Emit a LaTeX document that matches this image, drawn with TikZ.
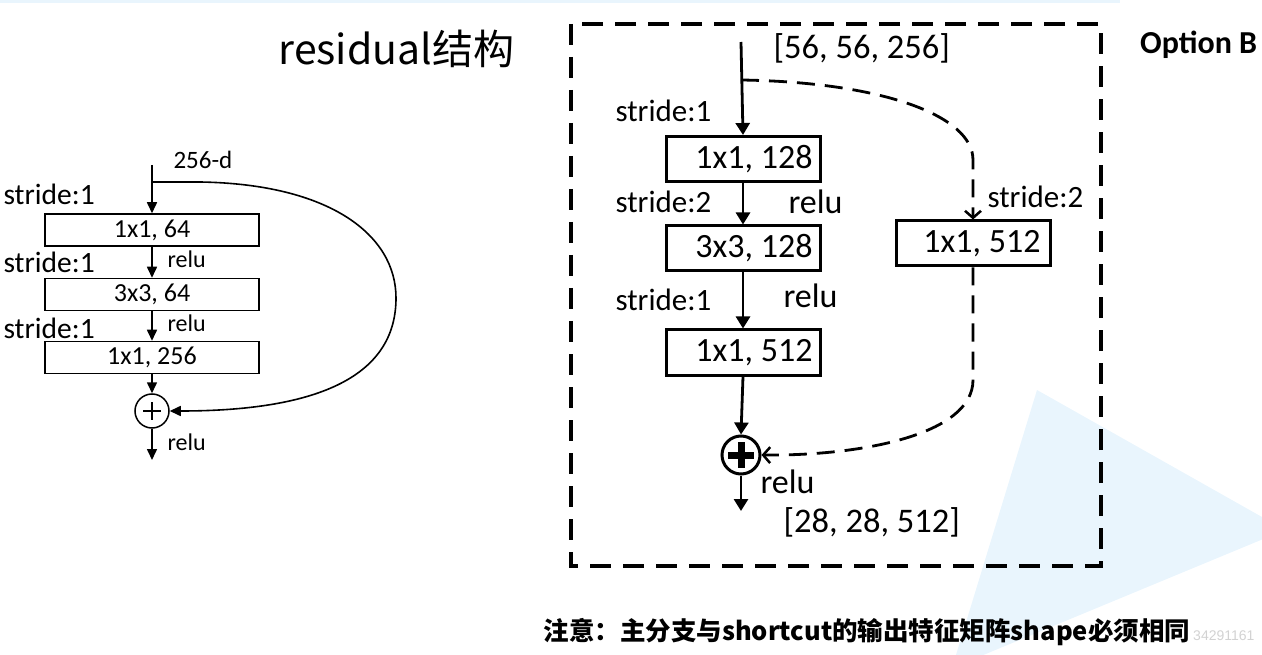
\documentclass[tikz,border=0pt]{standalone}
\usepackage{fontspec}
\setmainfont{Carlito}
\newfontfamily\cjk{Noto Sans CJK SC}
\newfontfamily\wmfont{Liberation Sans}
\usetikzlibrary{arrows.meta}
\definecolor{bgblue}{HTML}{E9F5FD}
\begin{document}
\begin{tikzpicture}[x=1pt,y=-1pt,
  fs/.style={font=\fontsize{#1}{#1}\selectfont},
  lbox/.style={draw, line width=1.5pt, minimum width=214pt, minimum height=32pt, inner sep=0pt, font=\fontsize{26}{26}\selectfont},
  rbox/.style={draw, line width=3pt, minimum width=154pt, minimum height=45pt, inner sep=0pt, font=\fontsize{34}{34}\selectfont},
  larr/.style={line width=1.6pt, -{Triangle[length=11pt,width=10pt]}},
  rarr/.style={line width=2.8pt, -{Triangle[length=12pt,width=14pt]}},
  darr/.style={line width=2.8pt, dash pattern=on 18pt off 10pt, -{Straight Barb[length=7pt,width=16pt,line width=2.5pt]}},
  frame/.style={line width=3.5pt, dash pattern=on 21pt off 12pt},
]
\useasboundingbox (0,0) rectangle (1262,655);
\clip (0,0) rectangle (1262,655);
% background decor
\fill[bgblue] (0,0) rectangle (1120,3);
\fill[bgblue] (1037,390) -- (1285,530) -- (952,668) -- cycle;

% ---------- left diagram ----------
\node[font={\cjk\fontsize{41}{41}\selectfont}, anchor=west] (title) at (275,49) {residual结构};

\coordinate (lin) at (152,165);
\coordinate (lsplit) at (152,182);
\coordinate (lout) at (152,460);
\node[lbox] (l1) at (152,230) {1x1, 64};
\node[lbox] (l2) at (152,294.5) {3x3, 64};
\node[lbox] (l3) at (152,357.5) {1x1, 256};
\node[draw, circle, line width=1.5pt, minimum size=34pt, inner sep=0pt] (lplus) at (152,411) {};
\draw[line width=1.5pt] (lplus.center) ++(-9,0) -- ++(18,0);
\draw[line width=1.5pt] (lplus.center) ++(0,-9) -- ++(0,18);

\draw[larr] (lin) -- (l1.north);
\draw[larr] (l1.south) -- (l2.north);
\draw[larr] (l2.south) -- (l3.north);
\draw[larr] (l3.south) -- (lplus.north);
\draw[larr] (lplus.south) -- (lout);
\draw[larr] (lsplit) -- (200,182) .. controls (330,184) and (396,235) .. (396,298) .. controls (396,370) and (330,411) .. (lplus.east);

\node[fs=25, anchor=west] (t256) at (170,160) {256-d};
\node[fs=29.5, anchor=west] (ls1) at (0,194) {stride:1};
\node[fs=29.5, anchor=west] (ls2) at (0,262) {stride:1};
\node[fs=29.5, anchor=west] (ls3) at (0,328) {stride:1};
\node[fs=24, anchor=west] (lr1) at (164,259) {relu};
\node[fs=24, anchor=west] (lr2) at (164,323) {relu};
\node[fs=24, anchor=west] (lr3) at (164,442) {relu};

% ---------- right diagram ----------
\draw[frame] (571,24) rectangle (1101,566);

\coordinate (rin) at (741,42);
\coordinate (rsplit) at (741,80);
\coordinate (rout) at (741,511);
\node[rbox] (r1) at (743,159) {\hspace*{22pt}1x1, 128};
\node[rbox] (r2) at (743,248.5) {\hspace*{22pt}3x3, 128};
\node[rbox] (r3) at (743,352.5) {\hspace*{22pt}1x1, 512};
\node[rbox] (rs) at (973,243.5) {\hspace*{18pt}1x1, 512};
\node[draw, circle, line width=3pt, minimum size=38pt, inner sep=0pt] (rplus) at (741,455) {};
\draw[line width=7pt] (rplus.center) ++(-13,0) -- ++(26,0);
\draw[line width=7pt] (rplus.center) ++(0,-13) -- ++(0,26);

\draw[rarr] (rin) -- (r1.north);
\draw[rarr] (r1.south) -- (r2.north);
\draw[rarr] (r2.south) -- (r3.north);
\draw[rarr] (r3.south) -- (rplus.north);
\draw[rarr] (rplus.south) -- (rout);
\draw[darr] (rsplit) .. controls (880,82) and (973,115) .. (973,160) -- (rs.north);
\draw[darr] (rs.south) -- (973,380) .. controls (973,435) and (860,456) .. (rplus.east);

\node[fs=34.5, anchor=west] (rin-t) at (770,48) {[56, 56, 256]};
\node[fs=31, anchor=west] (rs1) at (612,111) {stride:1};
\node[fs=31, anchor=west] (rs2) at (612,202) {stride:2};
\node[fs=31, anchor=west] (rs3) at (612,300) {stride:1};
\node[fs=34, anchor=west] (rr1) at (785,202) {relu};
\node[fs=34, anchor=west] (rr2) at (780,296) {relu};
\node[fs=34, anchor=west] (rr3) at (757,482) {relu};
\node[fs=34.5, anchor=west] (rout-t) at (780,522) {[28, 28, 512]};
\node[fs=31, anchor=west] (rs4) at (984,197) {stride:2};

\node[font={\bfseries\fontsize{32}{32}\selectfont}, anchor=west, inner sep=1pt] (opt) at (1139,45) {Option B};

% ---------- note ----------
\node[font={\wmfont\fontsize{14}{14}\selectfont}, text=gray!35, anchor=east] (wm) at (1258,636) {34291161};
\node[font={\cjk\bfseries\fontsize{25.5}{25.5}\selectfont}, anchor=west] (note) at (540,632) {注意：主分支与shortcut的输出特征矩阵shape必须相同};
\end{tikzpicture}
\end{document}
